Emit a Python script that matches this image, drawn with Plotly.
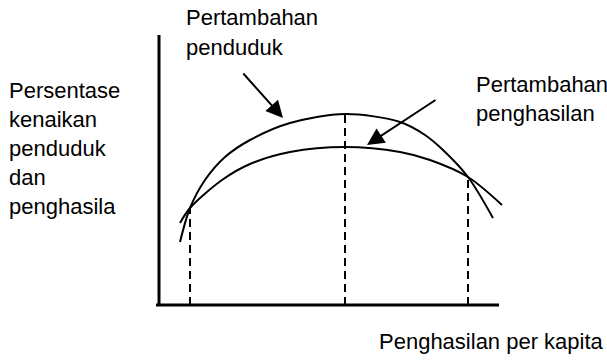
import plotly.graph_objects as go

# ---- data (schematic units: x = income per capita, y = % increase) ----
pop_x = [21, 31, 46, 66, 91, 131, 186, 241, 266, 284, 309, 334]
pop_y = [63, 97, 125, 148, 165, 182, 191, 183, 170, 155, 128, 87]

inc_x = [21, 31, 63, 91, 131, 186, 241, 271, 309, 343]
inc_y = [82, 97, 125, 141, 153, 158, 153, 145, 128, 100]

eq_x = [31, 186, 309]      # dashed guide lines (crossings / peak)
eq_y = [97, 191, 128]

axis_x_max = 340
axis_y_max = 270

y_label_lines = ["Persentase", "kenaikan", "penduduk", "dan", "penghasila"]
x_label = "Penghasilan per kapita"
pop_label = ["Pertambahan", "penduduk"]
inc_label = ["Pertambahan", "penghasilan"]

# ---- figure ----
W, H = 607, 360
OX, OY = 159, 305  # pixel position of the origin
FONT = "Liberation Sans, Arial, sans-serif"
FS = 22

fig = go.Figure()
fig.add_trace(go.Scatter(x=pop_x, y=pop_y, mode="lines",
                         line=dict(color="black", width=2, shape="spline", smoothing=0.9),
                         hoverinfo="skip", showlegend=False))
fig.add_trace(go.Scatter(x=inc_x, y=inc_y, mode="lines",
                         line=dict(color="black", width=2, shape="spline", smoothing=0.9),
                         hoverinfo="skip", showlegend=False))
for xv, yv in zip(eq_x, eq_y):
    fig.add_trace(go.Scatter(x=[xv, xv], y=[0, yv], mode="lines",
                             line=dict(color="black", width=2, dash="8px,5px"),
                             hoverinfo="skip", showlegend=False))

# axes (L shape)
fig.add_shape(type="line", x0=0, y0=0, x1=0, y1=axis_y_max, line=dict(color="black", width=3))
fig.add_shape(type="line", x0=-3, y0=0, x1=axis_x_max, y1=0, line=dict(color="black", width=3))


def px2paper(px, py):
    return px / W, 1 - py / H


def label(text, px, py_base, anchor="left"):
    x, y = px2paper(px - 1 if anchor == "left" else px, py_base + 6)
    fig.add_annotation(x=x, y=y, xref="paper", yref="paper", text=text,
                       showarrow=False, xanchor=anchor, yanchor="bottom",
                       font=dict(family=FONT, size=FS, color="black"))


for i, t in enumerate(y_label_lines):
    label(t, 8, 99 + 29 * i)
for i, t in enumerate(pop_label):
    label(t, 185, 26 + 30 * i)
for i, t in enumerate(inc_label):
    label(t, 475, 93 + 29 * i)
label(x_label, 606, 350, anchor="right")

# arrows (pointing at the curves)
fig.add_annotation(x=124, y=187, ax=83, ay=233, xref="x", yref="y", axref="x", ayref="y",
                   showarrow=True, arrowhead=2, arrowsize=1.7, arrowwidth=2, arrowcolor="black",
                   text="", standoff=0)
fig.add_annotation(x=208, y=160, ax=278, ay=206, xref="x", yref="y", axref="x", ayref="y",
                   showarrow=True, arrowhead=2, arrowsize=1.7, arrowwidth=2, arrowcolor="black",
                   text="", standoff=0)

fig.update_layout(
    width=W, height=H, autosize=False,
    margin=dict(l=0, r=0, t=0, b=0, pad=0),
    paper_bgcolor="white", plot_bgcolor="white",
    xaxis=dict(range=[-OX, W - OX], visible=False, fixedrange=True),
    yaxis=dict(range=[OY - H, OY], visible=False, fixedrange=True),
)

fig.write_html("out.html", config={"displayModeBar": False},
               post_script="document.body.style.margin='0';document.body.style.overflow='hidden';")
